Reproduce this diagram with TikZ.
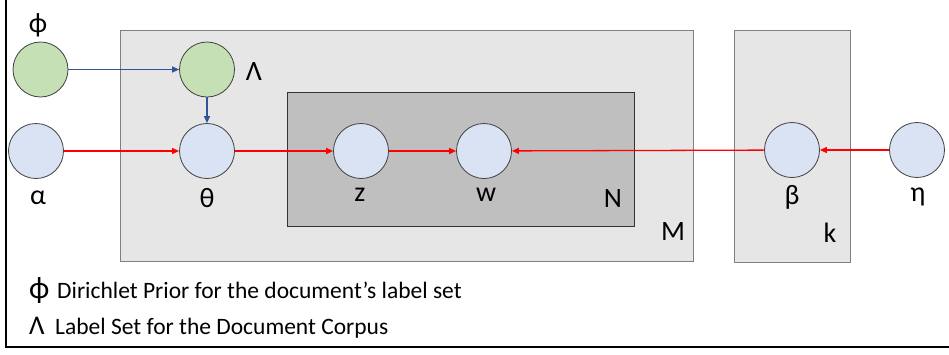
\documentclass[tikz,border=0pt]{standalone}
\usepackage{fontspec}
\setmainfont{Carlito}
\usetikzlibrary{arrows.meta}
\definecolor{greenfill}{HTML}{C5E0B4}
\definecolor{bluefill}{HTML}{DAE3F3}
\definecolor{nodeedge}{HTML}{404040}
\definecolor{platefill}{HTML}{E6E6E6}
\definecolor{plateedge}{HTML}{7F7F7F}
\definecolor{innerfill}{HTML}{BFBFBF}
\definecolor{linkblue}{HTML}{2F5597}
\newcommand{\legsym}[3]{\makebox[#1][l]{\fontsize{#2}{#2}\selectfont #3}}
\tikzset{
  var/.style={circle, minimum size=55pt, inner sep=0pt, draw=nodeedge, line width=0.8pt},
  greenvar/.style={var, fill=greenfill},
  bluevar/.style={var, fill=bluefill},
  plate/.style={fill=platefill, draw=plateedge, line width=0.8pt},
  innerplate/.style={fill=innerfill, draw=black!80, line width=0.8pt},
  lbl/.style={font=\fontsize{28}{32}\selectfont, inner sep=0pt},
  legend/.style={font=\fontsize{23.5}{28}\selectfont, inner sep=0pt, anchor=base west},
  redlink/.style={red, line width=1.3pt, -{Triangle[length=7pt,width=6pt]}},
  bluelink/.style={linkblue, line width=1.3pt, -{Triangle[length=7pt,width=6pt]}}
}
\begin{document}
\begin{tikzpicture}[x=1pt,y=-1pt]
  \useasboundingbox (0,0) rectangle (949,354);
  % frame on the left and bottom
  \draw[line width=2pt] (6,0) -- (6,347) -- (949,347);

  % plates
  \path[plate] (120,30) rectangle (693,261);
  \path[plate] (734,30) rectangle (850,262);
  \path[innerplate] (287,92) rectangle (634,226);

  % plate labels
  \node[lbl] (labN) at (613,199) {N};
  \node[lbl] (labM) at (673,232) {M};
  \node[lbl] (labk) at (830,233) {k};

  % variables
  \node[greenvar] (phi) at (40.5,69.5) {};
  \node[greenvar] (lam) at (207,69.5) {};
  \node[bluevar] (alpha) at (36,151) {};
  \node[bluevar] (theta) at (207,151) {};
  \node[bluevar] (z) at (361,151) {};
  \node[bluevar] (w) at (484,151) {};
  \node[bluevar] (beta) at (792,150) {};
  \node[bluevar] (eta) at (917,150) {};

  % variable names
  \node[lbl] (tphi) at (38,25) {ϕ};
  \node[lbl] (tlam) at (254,72) {Λ};
  \node[lbl] (talpha) at (38,198) {α};
  \node[lbl] (ttheta) at (207,198) {θ};
  \node[lbl] (tz) at (360,195) {z};
  \node[lbl] (tw) at (486,195) {w};
  \node[lbl] (tbeta) at (792,197) {β};
  \node[lbl] (teta) at (918,197) {η};

  % dependencies
  \draw[bluelink] (phi) -- (lam);
  \draw[bluelink] (lam) -- (theta);
  \draw[redlink] (alpha) -- (theta);
  \draw[redlink] (theta) -- (z);
  \draw[redlink] (z) -- (w);
  \draw[redlink] (beta) -- (w);
  \draw[redlink] (eta) -- (beta);

  % legend
  \node[legend] (leg1) at (29,298) {\legsym{28pt}{31}{ϕ}Dirichlet Prior for the document’s label set};
  \node[legend] (leg2) at (29,334) {\legsym{26pt}{27}{Λ}Label Set for the Document Corpus};
\end{tikzpicture}
\end{document}
